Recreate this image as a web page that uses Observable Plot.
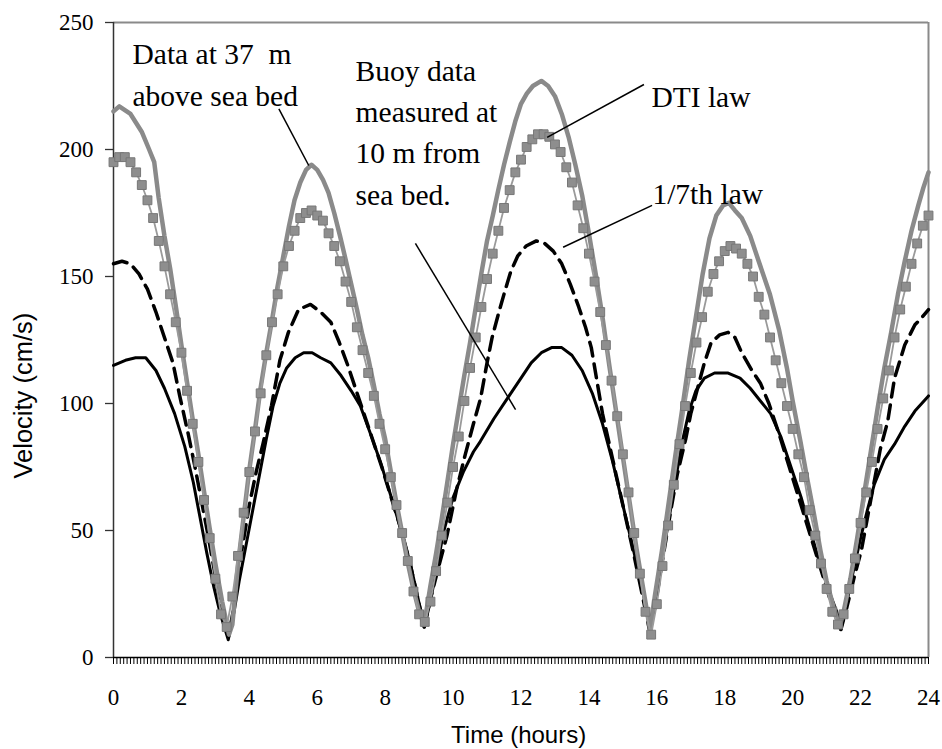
<!DOCTYPE html>
<html><head><meta charset="utf-8">
<script src="https://cdn.jsdelivr.net/npm/d3@7"></script>
<script src="https://cdn.jsdelivr.net/npm/@observablehq/plot@0.6"></script>
<style>body{margin:0;background:#fff} #chart svg{display:block}</style>
</head><body><div id="chart"></div>
<script>
// Data at 37 m above sea bed (thick grey line)
const hours37 = [0,0.17,0.5,0.83,1.05,1.2,1.33,1.5,1.67,1.85,2,2.17,2.33,2.5,2.67,2.83,3,3.2,3.4,3.5,3.67,3.83,4,4.17,4.33,4.5,4.67,4.83,5,5.17,5.33,5.5,5.67,5.83,6,6.17,6.33,6.5,6.67,6.83,7,7.17,7.33,7.5,7.67,7.83,8,8.17,8.33,8.5,8.67,8.83,9,9.15,9.33,9.5,9.67,9.83,10,10.17,10.33,10.5,10.67,10.83,11,11.17,11.33,11.5,11.67,11.83,12,12.17,12.35,12.6,12.8,13,13.2,13.4,13.6,13.8,14,14.2,14.4,14.6,14.8,15,15.2,15.4,15.6,15.8,15.95,16.15,16.35,16.55,16.75,16.95,17.15,17.35,17.55,17.75,17.95,18.12,18.3,18.5,18.75,19,19.33,19.6,19.83,20,20.23,20.42,20.62,20.82,21,21.2,21.38,21.5,21.7,21.9,22.1,22.3,22.5,22.7,22.9,23.1,23.3,23.5,23.7,23.85,24];
const vel37 = [215,217,214,207,200,195,181,166,153,137,123,108,94,80,65,51,37,22,9,13,37,55,74,90,106,120,133,146,158,170,180,187,192,194,192,188,183,175,166,157,147,137,127,118,107,96,86,73,61,49,37,27,18,13,28,41,55,69,84,98,111,124,138,151,164,174,184,194,203,211,218,222,225,227,225,221,214,205,194,182,167,151,134,115,97,79,61,43,27,11,25,42,61,80,98,117,134,151,165,174,178,179,176,173,166,156,143,129,114,101,85,71,57,42,30,20,12,18,31,47,64,81,98,114,128,143,156,168,178,185,191];

// Buoy data measured at 10 m from sea bed (black solid line)
const hoursBuoy = [0,0.35,0.65,0.95,1.25,1.5,1.8,2.1,2.35,2.55,2.75,2.95,3.15,3.38,3.55,3.7,3.9,4.1,4.3,4.5,4.7,4.9,5.1,5.35,5.6,5.85,6.1,6.4,6.7,7,7.27,7.57,7.86,8.16,8.45,8.74,8.94,9.15,9.33,9.53,9.73,10,10.3,10.6,10.8,11.2,11.6,12,12.3,12.6,12.9,13.2,13.5,13.8,14.1,14.4,14.7,15,15.3,15.6,15.8,15.96,16.15,16.35,16.55,16.75,16.95,17.15,17.4,17.7,18.1,18.45,18.75,19.05,19.35,19.65,19.95,20.25,20.5,20.8,21.1,21.3,21.42,21.6,21.8,22,22.2,22.4,22.7,23,23.3,23.6,24];
const velBuoy = [115,117,118,118,113,106,96,83,69,55,41,28,17,7,18,30,44,58,72,86,99,108,114,118,120,120,118,116,111,105,99,88,77,64,51,37,25,12,22,36,50,63,73,81,85,94,102,110,116,120,122,122,119,113,104,92,77,60,43,25,12,22,38,54,70,85,97,105,110,112,112,110,106,101,96,87,75,63,51,37,25,18,11,22,35,47,58,68,78,84,91,97,103];

// 1/7th law (black dashed line)
const hours7 = [0,0.25,0.5,0.75,1,1.25,1.5,1.75,1.95,2.2,2.4,2.6,2.8,3,3.2,3.38,3.55,3.75,4,4.2,4.4,4.65,4.9,5.15,5.45,5.8,6.1,6.4,6.65,6.9,7.1,7.3,7.6,7.9,8.2,8.5,8.75,8.95,9.15,9.35,9.6,9.82,10.1,10.36,10.6,10.81,11,11.15,11.35,11.52,11.7,11.9,12.15,12.45,12.7,12.95,13.2,13.45,13.7,13.9,14.07,14.4,14.7,15,15.3,15.55,15.78,15.95,16.15,16.4,16.6,16.85,17,17.2,17.4,17.6,17.85,18.1,18.3,18.5,18.8,19.05,19.3,19.6,19.9,20.2,20.5,20.8,21.1,21.3,21.42,21.6,21.8,22.02,22.3,22.58,22.8,23,23.3,23.6,23.75,24];
const vel7 = [155,156,155,151,145,136,126,116,103,88,75,61,47,32,18,8,20,40,60,73,84,99,117,128,137,139,136,132,124,115,107,99,87,75,62,49,36,24,12,24,37,48,66,80,92,102,116,126,136,144,152,158,162,164,163,160,155,147,138,130,122,96,78,60,42,26,11,20,37,57,72,86,96,106,116,124,127,128,126,120,113,108,100,88,75,62,49,36,23,15,11,20,31,42,62,82,93,110,123,131,133,137];

// DTI law (grey squares, one every 10 minutes)
const velDTI = [
  195,197,197,195,191,186,180,173,164,154,
  143,132,120,105,92,77,62,47,31,17,
  12,24,40,57,73,89,104,119,132,143,
  154,162,168,173,175,176,174,172,167,162,
  156,148,140,130,121,112,103,92,82,71,
  60,49,38,26,17,14,22,34,48,61,
  75,87,101,114,126,138,149,159,168,177,
  184,191,196,201,204,206,206,205,202,199,
  193,187,178,169,159,148,136,123,109,95,
  80,65,49,33,18,9,21,36,52,68,
  84,99,112,124,134,144,151,156,160,162,
  161,159,155,150,142,135,126,117,108,99,
  90,80,71,58,48,37,27,18,13,17,
  27,39,53,65,77,90,102,113,126,137,
  146,155,163,170,174];
const hoursDTI = velDTI.map((_, i) => i / 6);

// Axis ticks
const yTicks = [0, 50, 100, 150, 200, 250];
const xTickLabels = [0, 2, 4, 6, 8, 10, 12, 14, 16, 18, 20, 22, 24];
const xMinorTicks = d3.range(0, 241).map(i => i / 10);

// Texts
const xTitle = "Time (hours)";
const yTitle = "Velocity (cm/s)";
const notes = [
  {text: "Data at 37  m\nabove sea bed", h: 0.56, v: 245.1},
  {text: "Buoy data\nmeasured at\n10 m from\nsea bed.", h: 7.13, v: 238.6},
  {text: "DTI law", h: 15.84, v: 228.2},
  {text: "1/7th law", h: 15.87, v: 190.0}
];
const pointers = [
  {h1: 4.87, v1: 216.0, h2: 5.75, v2: 193.7},
  {h1: 8.89, v1: 163.0, h2: 11.84, v2: 97.6},
  {h1: 15.62, v1: 225.6, h2: 12.77, v2: 204.8},
  {h1: 15.86, v1: 178.0, h2: 13.24, v2: 161.5}
];
const titlePos = {x: {h: 11.93, v: -26.8}, y: {h: -2.93, v: 103.1}};

const s37 = hours37.map((h, i) => ({h, v: vel37[i]}));
const sBuoy = hoursBuoy.map((h, i) => ({h, v: velBuoy[i]}));
const s7 = hours7.map((h, i) => ({h, v: vel7[i]}));
const sDTI = hoursDTI.map((h, i) => ({h, v: velDTI[i]}));

const SERIF = "Liberation Serif";
const SANS = "Liberation Sans";

const chart = Plot.plot({
  width: 942, height: 749,
  marginLeft: 113, marginRight: 14, marginTop: 22, marginBottom: 92,
  x: {domain: [0, 24], label: null},
  y: {domain: [0, 250], label: null},
  style: {fontFamily: SERIF, fontSize: "23px", color: "#000", background: "#fff"},
  marks: [
    Plot.ruleY([250], {stroke: "#8a8a8a", strokeWidth: 2}),
    Plot.ruleX([24], {stroke: "#8a8a8a", strokeWidth: 2}),
    Plot.axisX({ticks: xMinorTicks, tickSize: 7, tickFormat: () => "", stroke: "#000", strokeWidth: 1, label: null}),
    Plot.axisX({ticks: xTickLabels, tickSize: 0, tickPadding: 31, tickFormat: d => String(d), fontSize: 23, fontFamily: SERIF, label: null}),
    Plot.axisY({ticks: yTicks, tickSize: 8, tickPadding: 12, stroke: "#333", strokeWidth: 1.3, fontSize: 23, fontFamily: SERIF, label: null}),
    Plot.ruleX([0], {stroke: "#333", strokeWidth: 1.5}),
    Plot.ruleY([0], {stroke: "#000", strokeWidth: 1.5}),
    Plot.line(sBuoy, {x: "h", y: "v", stroke: "#000", strokeWidth: 3, strokeLinejoin: "round"}),
    Plot.line(s7, {x: "h", y: "v", stroke: "#000", strokeWidth: 3.5, strokeDasharray: "14,8"}),
    Plot.line(s37, {x: "h", y: "v", stroke: "#8a8a8a", strokeWidth: 4.5, strokeLinejoin: "round"}),
    Plot.line(sDTI, {x: "h", y: "v", stroke: "#9a9a9a", strokeWidth: 1.8}),
    Plot.dot(sDTI, {x: "h", y: "v", symbol: "square", r: 5, fill: "#8e8e8e", stroke: "#777", strokeWidth: 1}),
    Plot.link(pointers, {x1: "h1", y1: "v1", x2: "h2", y2: "v2", stroke: "#000", strokeWidth: 1.5}),
    Plot.text(notes, {x: "h", y: "v", text: "text", textAnchor: "start", lineAnchor: "top", lineHeight: 1.4, fontSize: 29.5, fontFamily: SERIF, fill: "#000"}),
    Plot.text([xTitle], {x: () => titlePos.x.h, y: () => titlePos.x.v, text: d => d, textAnchor: "middle", lineAnchor: "top", fontSize: 24, fontFamily: SANS, fill: "#000", className: "sans-title"}),
    Plot.text([yTitle], {x: () => titlePos.y.h, y: () => titlePos.y.v, text: d => d, textAnchor: "middle", lineAnchor: "top", rotate: -90, fontSize: 25.5, fontFamily: SANS, fill: "#000", className: "sans-title"})
  ]
});
chart.querySelectorAll("text").forEach(t => {
  const fam = t.closest(".sans-title") !== null ? SANS : SERIF;
  t.setAttribute("font-family", fam);
});
document.getElementById("chart").appendChild(chart);
</script>
</body></html>
